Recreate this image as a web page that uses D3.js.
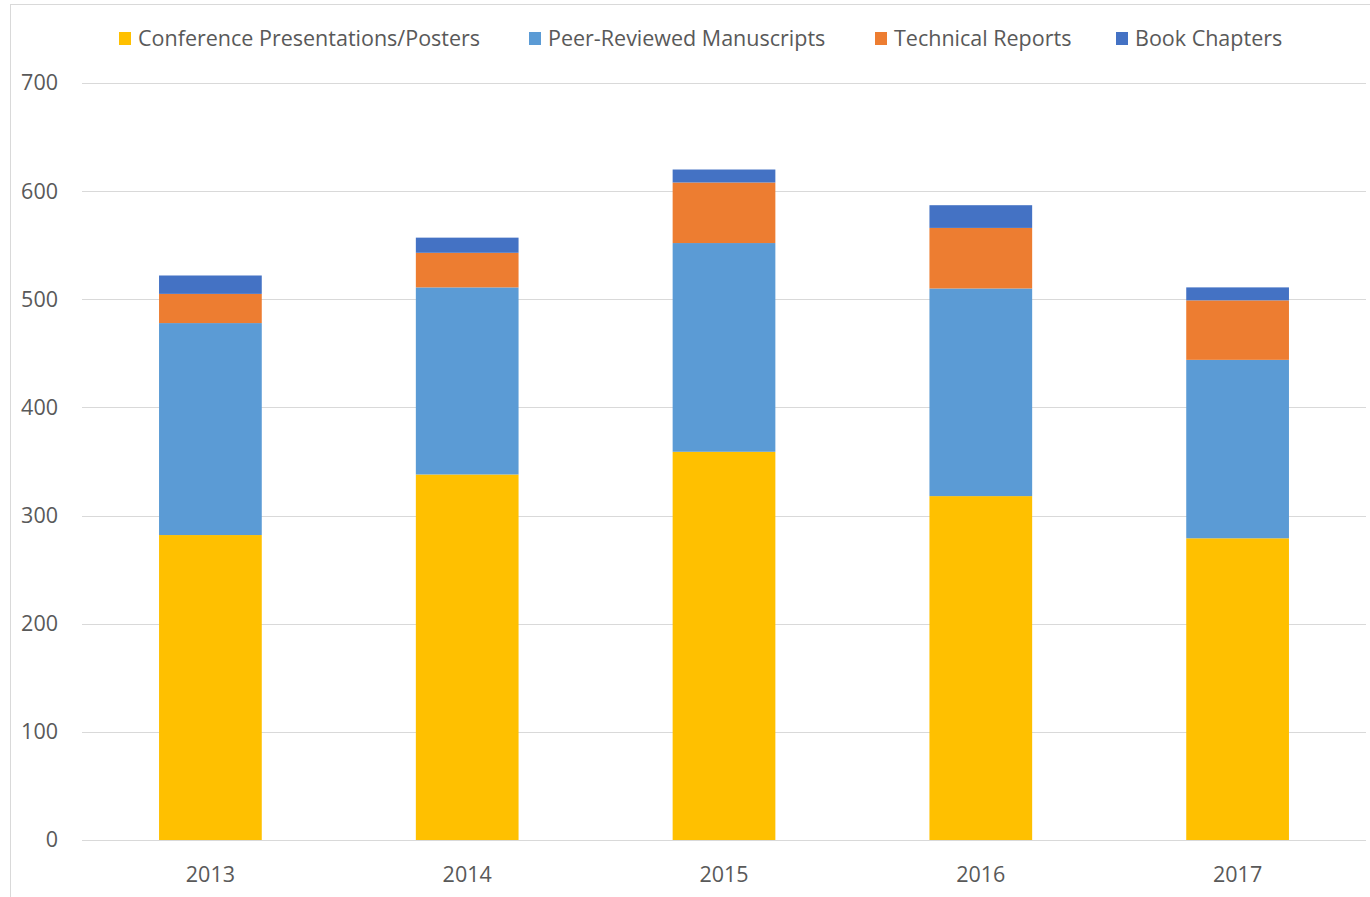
<!DOCTYPE html>
<html>
<head>
<meta charset="utf-8">
<script src="https://cdn.jsdelivr.net/npm/d3@7"></script>
<style>
  body { margin: 0; background: #fff; }
  text { font-family: "Open Sans", sans-serif; fill: #595959; }
</style>
</head>
<body>
<div id="chart"></div>
<script>
// data
var years = ['2013', '2014', '2015', '2016', '2017'];
var seriesNames = ['Conference Presentations/Posters', 'Peer-Reviewed Manuscripts', 'Technical Reports', 'Book Chapters'];
var seriesColors = ['#ffc000', '#5b9bd5', '#ed7d31', '#4472c4'];
var conference = [282, 338, 359, 318, 279];
var peerReviewed = [196, 173, 193, 192, 165];
var technical = [27, 32, 56, 56, 55];
var bookChapters = [17, 14, 12, 21, 12];
var yTicks = [0, 100, 200, 300, 400, 500, 600, 700];

var seriesValues = [conference, peerReviewed, technical, bookChapters];

const W = 1370, H = 897;
const margin = {top: 83, right: 4, bottom: 57, left: 82};
const fontSize = '21.5px';

const svg = d3.select('#chart').append('svg')
  .attr('width', W)
  .attr('height', H);

// outer frame
svg.append('rect')
  .attr('x', 10.5).attr('y', 4.5)
  .attr('width', W).attr('height', H)
  .attr('fill', 'none')
  .attr('stroke', '#d9d9d9');

const x = d3.scaleBand()
  .domain(years)
  .range([margin.left, W - margin.right])
  .paddingInner(0.6)
  .paddingOuter(0.3);

const y = d3.scaleLinear()
  .domain([0, 700])
  .range([H - margin.bottom, margin.top]);

// grid
svg.append('g')
  .selectAll('line')
  .data(yTicks)
  .join('line')
  .attr('x1', margin.left)
  .attr('x2', W - margin.right)
  .attr('y1', d => Math.round(y(d)) + 0.5)
  .attr('y2', d => Math.round(y(d)) + 0.5)
  .attr('stroke', '#d9d9d9')
  .attr('stroke-width', 1.2);

// y axis labels
const yAxis = svg.append('g')
  .attr('transform', `translate(${margin.left - 24},0)`)
  .call(d3.axisLeft(y).tickValues(yTicks).tickSize(0).tickPadding(0));
yAxis.select('.domain').remove();
yAxis.selectAll('text')
  .style('font-family', '"Open Sans", sans-serif')
  .style('font-size', fontSize)
  .attr('fill', '#595959');

// x axis labels
const xAxis = svg.append('g')
  .attr('transform', `translate(0,${H - margin.bottom})`)
  .call(d3.axisBottom(x).tickSize(0).tickPadding(27));
xAxis.select('.domain').remove();
xAxis.selectAll('text')
  .style('font-family', '"Open Sans", sans-serif')
  .style('font-size', fontSize)
  .attr('fill', '#595959');

// stacked bars
var rows = years.map(function(yr, i) {
  var r = {year: yr};
  seriesNames.forEach(function(s, k) { r[s] = seriesValues[k][i]; });
  return r;
});
var stacked = d3.stack().keys(seriesNames)(rows);

svg.append('g')
  .selectAll('g')
  .data(stacked)
  .join('g')
  .attr('fill', (d, i) => seriesColors[i])
  .selectAll('rect')
  .data(d => d)
  .join('rect')
  .attr('x', d => x(d.data.year))
  .attr('y', d => y(d[1]))
  .attr('width', x.bandwidth())
  .attr('height', d => y(d[0]) - y(d[1]));

// legend
var legendX = [119, 529, 875, 1116];
const legend = svg.append('g');
seriesNames.forEach(function(name, i) {
  const g = legend.append('g').attr('transform', `translate(${legendX[i]},38)`);
  g.append('rect')
    .attr('x', 0).attr('y', -6)
    .attr('width', 12).attr('height', 13)
    .attr('fill', seriesColors[i]);
  g.append('text')
    .attr('x', 19)
    .attr('y', 0)
    .attr('dy', '0.35em')
    .style('font-size', fontSize)
    .text(name);
});
</script>
</body>
</html>
